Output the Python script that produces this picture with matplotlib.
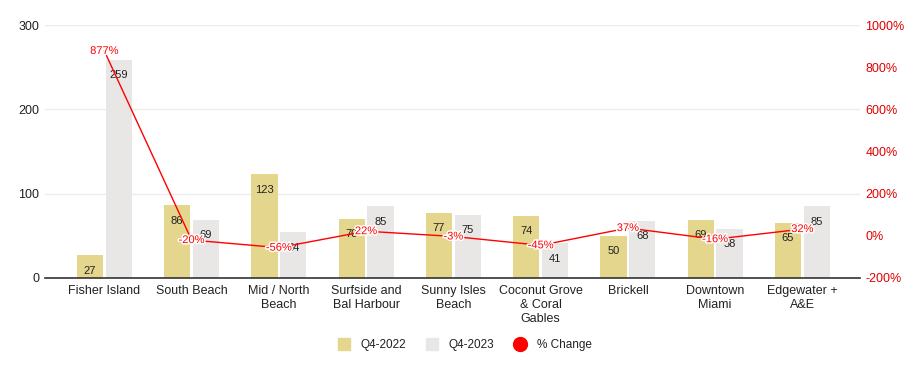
import matplotlib
matplotlib.use("Agg")
import matplotlib.pyplot as plt
import matplotlib.patheffects as pe
from matplotlib.lines import Line2D
import numpy as np

plt.rcParams['font.family'] = ['Liberation Sans', 'DejaVu Sans']

categories = ["Fisher Island", "South Beach", "Mid / North\nBeach", "Surfside and\nBal Harbour",
              "Sunny Isles\nBeach", "Coconut Grove\n& Coral\nGables", "Brickell", "Downtown\nMiami",
              "Edgewater +\nA&E"]
q4_2022 = [27, 86, 123, 70, 77, 74, 50, 69, 65]
q4_2023 = [259, 69, 54, 85, 75, 41, 68, 58, 85]
pct_change = [877, -20, -56, 22, -3, -45, 37, -16, 32]

c22 = "#E4D68D"
c23 = "#E8E7E5"
red = "#FF0000"

fig = plt.figure(figsize=(9.24, 3.71), dpi=100)
ax = fig.add_axes([45/924, 1-278/371, 815/924, 253/371])
ax2 = ax.twinx()

x = np.arange(len(categories))
w = 0.30
off = 0.165
ax.bar(x - off, q4_2022, w, color=c22, zorder=2)
ax.bar(x + off, q4_2023, w, color=c23, zorder=2)

for xi, v in zip(x - off, q4_2022):
    ax.annotate(str(v), (xi, v), xytext=(0, -11), textcoords="offset points", ha="center",
                va="center", fontsize=8, color="#222222", zorder=3)
for xi, v in zip(x + off, q4_2023):
    ax.annotate(str(v), (xi, v), xytext=(0, -11), textcoords="offset points", ha="center",
                va="center", fontsize=8, color="#222222", zorder=3)

ax.set_ylim(0, 300)
ax.set_yticks([0, 100, 200, 300])
ax.set_xlim(-0.68, 8.66)
ax.set_xticks(x)
ax.set_xticklabels(categories, fontsize=9, color="#222222", linespacing=1.2)
ax.tick_params(axis="x", length=0, pad=5)
ax.tick_params(axis="y", length=0, labelsize=9, labelcolor="#222222", pad=4)
ax.grid(axis="y", color="#EBEBEB", linewidth=0.9, zorder=0)
ax.set_axisbelow(True)
for s in ["top", "left", "right"]:
    ax.spines[s].set_visible(False)
ax.spines["bottom"].set_color("#333333")
ax.spines["bottom"].set_linewidth(1.2)
ax.spines["bottom"].set_zorder(4)

ax2.plot(x, pct_change, color=red, linewidth=1.0, zorder=5)
for xi, p in zip(x, pct_change):
    ax2.text(xi, p, f"{p}%", ha="center", va="center", fontsize=8, color=red, zorder=6,
             path_effects=[pe.withStroke(linewidth=2.2, foreground="white")])
ax2.set_ylim(-200, 1000)
ax2.set_yticks([-200, 0, 200, 400, 600, 800, 1000])
ax2.set_yticklabels([f"{t}%" for t in [-200, 0, 200, 400, 600, 800, 1000]])
ax2.tick_params(axis="y", length=0, labelsize=9, labelcolor="#E00000", pad=4)
for s in ["top", "left", "right", "bottom"]:
    ax2.spines[s].set_visible(False)

handles = [
    Line2D([0], [0], marker="s", linestyle="none", markersize=9, markerfacecolor=c22, markeredgecolor=c22),
    Line2D([0], [0], marker="s", linestyle="none", markersize=9, markerfacecolor=c23, markeredgecolor=c23),
    Line2D([0], [0], marker="o", linestyle="none", markersize=10, markerfacecolor=red, markeredgecolor=red),
]
fig.legend(handles, ["Q4-2022", "Q4-2023", "% Change"], loc="center", bbox_to_anchor=(0.5, 1-345/371),
           ncol=3, frameon=False, fontsize=8.5, handletextpad=0.4, columnspacing=1.2,
           labelcolor="#222222")

fig.savefig("out.png", dpi=100)
